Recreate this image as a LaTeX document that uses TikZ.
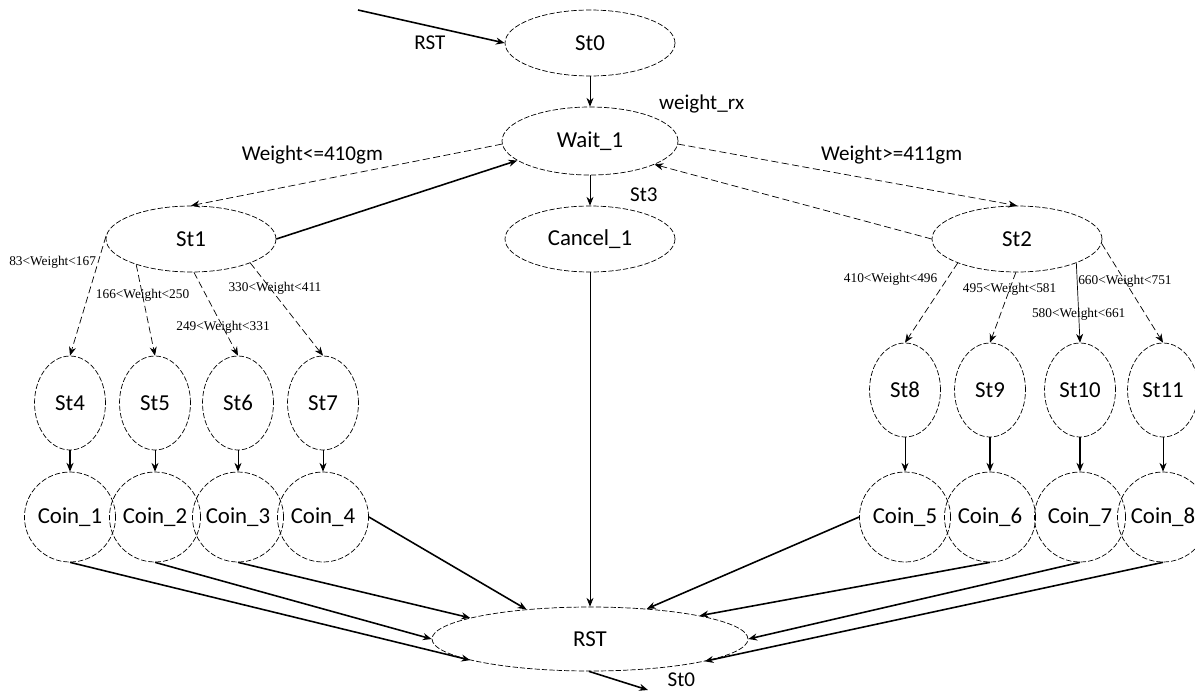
\documentclass[tikz,border=0pt]{standalone}
\usepackage{fontspec}
\setmainfont{Carlito}
\newfontfamily\condfont{Liberation Serif}
\usetikzlibrary{arrows.meta, shapes.geometric}

\begin{document}
\begin{tikzpicture}[
        x=0.02cm, y=-0.02cm,
        state/.style={ellipse, draw, thin, dash pattern=on 3pt off 1.2pt, inner sep=0pt, minimum width=3.4cm, minimum height=1.32cm, font=\fontsize{13}{15}\selectfont},
        small/.style={state, minimum width=1.42cm, minimum height=1.88cm},
        coin/.style={state, minimum width=1.44cm, minimum height=1.8cm},
        trans/.style={-{Stealth[length=5pt, width=4pt]}, thin},
        guard/.style={trans, dash pattern=on 4pt off 2pt},
        heavy/.style={trans, line width=0.9pt},
        lbl/.style={font=\fontsize{12}{14}\selectfont},
        cond/.style={font=\condfont\fontsize{7.6}{9}\selectfont, inner sep=0pt}
    ]
        \useasboundingbox (0,0) rectangle (1195,693);

        % Top of the machine
        \coordinate (rstsrc) at (358,10);
        \node[state] (st0) at (590,43) {St0};
        \node[state, minimum width=3.52cm, minimum height=1.36cm] (wait) at (590,141) {Wait\_1};
        \node[state] (cancel) at (590,239) {Cancel\_1};
        \node[state] (st1) at (191,239) {St1};
        \node[state] (st2) at (1017,239) {St2};

        % Light branch
        \node[small] (st4) at (70,403) {St4};
        \node[small] (st5) at (155,403) {St5};
        \node[small] (st6) at (238,403) {St6};
        \node[small] (st7) at (323,403) {St7};
        \node[coin] (coin1) at (70,517) {Coin\_1};
        \node[coin] (coin2) at (155,517) {Coin\_2};
        \node[coin] (coin3) at (238,517) {Coin\_3};
        \node[coin] (coin4) at (323,517) {Coin\_4};

        % Heavy branch
        \node[small] (st8) at (905,390) {St8};
        \node[small] (st9) at (990,390) {St9};
        \node[small] (st10) at (1080,390) {St10};
        \node[small] (st11) at (1163,390) {St11};
        \node[coin] (coin5) at (905,517) {Coin\_5};
        \node[coin] (coin6) at (990,517) {Coin\_6};
        \node[coin] (coin7) at (1080,517) {Coin\_7};
        \node[coin] (coin8) at (1163,517) {Coin\_8};

        % Reset
        \node[state, minimum width=6.32cm, minimum height=1.28cm] (rst) at (590,639) {RST};
        \coordinate (rstout) at (648,690);

        \draw[heavy] (rstsrc) -- node[lbl, pos=0.49, yshift=-0.34cm] {RST} (st0.west);
        \draw[trans] (st0.south) -- node[lbl, pos=0.9, anchor=west, xshift=1.26cm] {weight\_rx} (wait.north);
        \draw[guard] (wait.182) -- node[lbl, pos=0.61, yshift=0.54cm] {Weight<=410gm} (st1.north);
        \draw[guard] (wait.358) -- node[lbl, pos=0.63, yshift=0.56cm] {Weight>=411gm} (st2.north);
        \draw[heavy] (st1.east) -- (wait.195);
        \draw[guard] (st2.west) -- (wait.340);
        \draw[trans] (wait.south) -- node[lbl, pos=0.65, anchor=west, xshift=0.68cm] {St3} (cancel.north);
        \draw[trans] (cancel.south) -- (rst.north);

        \draw[guard] (st1.178) -- node[cond, pos=0.22, anchor=east, xshift=-1pt] {83<Weight<167} (st4.north);
        \draw[guard] (st1.205) -- node[cond, pos=0.34] {166<Weight<250} (st5.north);
        \draw[guard] (st1.275) -- node[cond, pos=0.66] {249<Weight<331} (st6.north);
        \draw[guard] (st1.338) -- node[cond, pos=0.27, xshift=0.1cm] {330<Weight<411} (st7.north);

        \draw[guard] (st2.202) -- node[cond, pos=0.21, anchor=east, xshift=-0.18cm] {410<Weight<496} (st8.north);
        \draw[guard] (st2.268) -- node[cond, pos=0.24] {495<Weight<581} (st9.north);
        \draw[trans] (st2.338) -- node[cond, pos=0.64] {580<Weight<661} (st10.north);
        \draw[guard] (st2.357) -- node[cond, pos=0.38] {660<Weight<751} (st11.north);

        \draw[heavy] (st4) -- (coin1);
        \draw[trans] (st5) -- (coin2);
        \draw[trans] (st6) -- (coin3);
        \draw[trans] (st7) -- (coin4);
        \draw[trans] (st8) -- (coin5);
        \draw[heavy] (st9) -- (coin6);
        \draw[heavy] (st10) -- (coin7);
        \draw[trans] (st11) -- (coin8);

        \draw[heavy] (coin1.south) -- (rst.190);
        \draw[heavy] (coin2.south) -- (rst.west);
        \draw[heavy] (coin3.south) -- (rst.170);
        \draw[heavy] (coin4.east) -- (rst.155);
        \draw[heavy] (coin5.west) -- (rst.28);
        \draw[heavy] (coin6.south) -- (rst.12);
        \draw[heavy] (coin7.south) -- (rst.east);
        \draw[heavy] (coin8.south) -- (rst.349);

        \draw[heavy] (rst.268) -- node[lbl, pos=1, anchor=west, xshift=0.26cm, yshift=0.2cm] {St0} (rstout);

    \end{tikzpicture}
\end{document}
